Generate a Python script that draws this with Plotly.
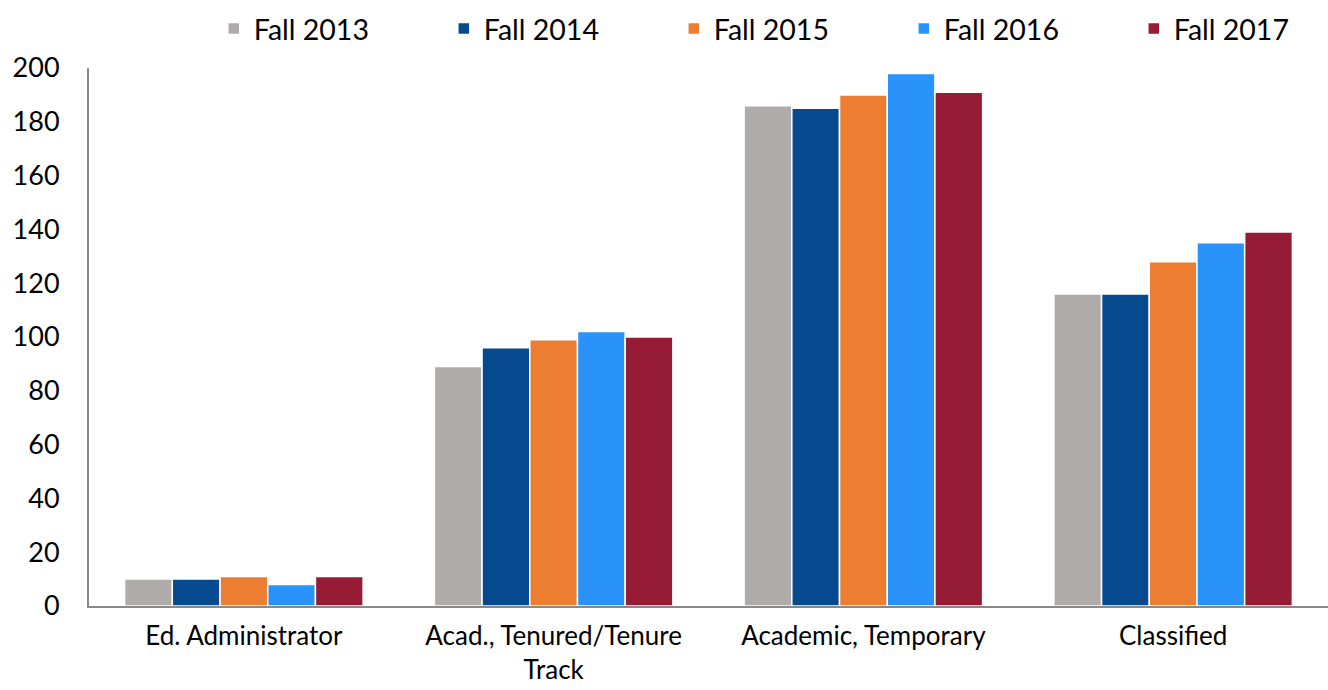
import plotly.graph_objects as go

categories = ["Ed. Administrator", "Acad., Tenured/Tenure<br>Track", "Academic, Temporary", "Classified"]
series_names = ["Fall 2013", "Fall 2014", "Fall 2015", "Fall 2016", "Fall 2017"]
fall_2013 = [10, 89, 186, 116]
fall_2014 = [10, 96, 185, 116]
fall_2015 = [11, 99, 190, 128]
fall_2016 = [8, 102, 198, 135]
fall_2017 = [11, 100, 191, 139]
colors = ["#AFABAB", "#054A8F", "#ED7D31", "#2A93FB", "#961B35"]
y_ticks = [0, 20, 40, 60, 80, 100, 120, 140, 160, 180, 200]

font_family = "Lato, 'Open Sans', sans-serif"

fig = go.Figure()
for name, vals, col in zip(series_names, [fall_2013, fall_2014, fall_2015, fall_2016, fall_2017], colors):
    fig.add_trace(go.Bar(
        name=name, x=categories, y=vals,
        marker=dict(color=col, line=dict(color="white", width=1.5)),
    ))

fig.update_layout(
    width=1328, height=690,
    margin=dict(l=89, r=0, t=68, b=84, autoexpand=False),
    paper_bgcolor="white", plot_bgcolor="white",
    barmode="group", bargap=0.23, bargroupgap=0,
    font=dict(family=font_family, color="#000000", size=27),
    legend=dict(
        orientation="h", x=0.161, xanchor="left", xref="container",
        y=0.995, yanchor="top", yref="container",
        font=dict(size=28.5), entrywidth=185, entrywidthmode="pixels",
        itemwidth=30,
    ),
    xaxis=dict(
        showline=True, linecolor="#898989", linewidth=2,
        ticks="", tickfont=dict(size=26), showgrid=False,
        ticklabelstandoff=6,
    ),
    yaxis=dict(
        range=[0, 200], tickvals=y_ticks, showline=True, linecolor="#898989",
        linewidth=2, ticks="", showgrid=False, zeroline=False,
        tickfont=dict(size=27), ticklabelstandoff=22,
    ),
)

fig.write_html("out.html")
